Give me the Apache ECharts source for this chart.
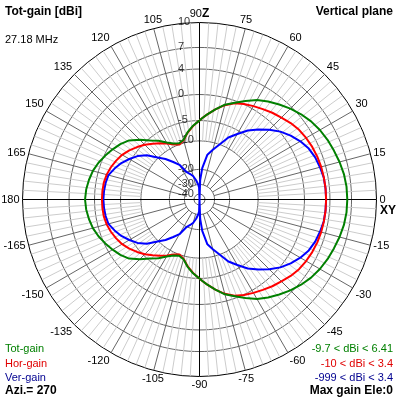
<!DOCTYPE html>
<html><head><meta charset="utf-8">
<script src="https://cdn.jsdelivr.net/npm/echarts@6/dist/echarts.min.js"></script>
<style>html,body{margin:0;padding:0;background:#fff}#c{width:398px;height:398px}</style>
</head><body><div id="c"></div>
<script>
// Elevation angles (deg), 0 = horizon toward XY, 90 = zenith (Z)
const ANGLES = [-180,-175,-170,-165,-160,-155,-150,-145,-140,-135,-130,-125,-120,-115,-110,-105,-100,-95,-92,-90,-88,-85,-80,-75,-70,-65,-60,-55,-50,-45,-40,-35,-30,-25,-20,-15,-10,-5,
  0,5,10,15,20,25,30,35,40,45,50,55,60,65,70,75,80,85,88,90,92,95,100,105,110,115,120,125,130,135,140,145,150,155,160,165,170,175,180];
// gains in dBi
const TOT_GAIN = [1.49,1.38,1.15,0.85,0.4,-0.2,-0.9,-1.6,-2.5,-3.9,-5.5,-6.8,-8.2,-9.2,-9.7,-9.2,-7.6,-6.2,-5.5,-5.0,-4.5,-3.8,-2.6,-1.3,-0.4,0.6,1.57,2.3,3.0,3.7,4.3,4.8,5.19,5.5,5.75,6.02,6.25,6.38,
  6.41,6.38,6.25,6.02,5.75,5.5,5.19,4.8,4.3,3.7,3.0,2.3,1.57,0.6,-0.4,-1.3,-2.6,-3.8,-4.5,-5.0,-5.5,-6.2,-7.6,-9.2,-9.7,-9.2,-8.2,-6.8,-5.5,-3.9,-2.5,-1.6,-0.9,-0.2,0.4,0.85,1.15,1.38,1.49];
const HOR_GAIN = [-1.42,-1.44,-1.5,-1.7,-2.05,-2.5,-3.0,-3.7,-4.5,-5.4,-6.5,-7.5,-8.5,-9.5,-10.0,-9.3,-7.7,-6.3,-5.5,-5.0,-4.5,-3.8,-2.6,-1.4,-0.5,0.05,0.45,0.85,1.3,1.7,2.2,2.6,2.85,3.05,3.2,3.3,3.35,3.39,
  3.4,3.39,3.35,3.3,3.2,3.05,2.85,2.6,2.2,1.7,1.3,0.85,0.45,0.05,-0.5,-1.4,-2.6,-3.8,-4.5,-5.0,-5.5,-6.3,-7.7,-9.3,-10.0,-9.5,-8.5,-7.5,-6.5,-5.4,-4.5,-3.7,-3.0,-2.5,-2.05,-1.7,-1.5,-1.44,-1.42];
const VER_GAIN = [-1.7,-1.75,-1.85,-2.05,-2.8,-3.6,-4.6,-5.8,-7.5,-9.8,-12,-14.5,-16.5,-20,-22,-24,-27,-30,-33,-999,-27,-19.5,-14.6,-12.5,-10.0,-7.6,-5.8,-4.0,-2.6,-1.2,0.1,1.0,1.8,2.45,2.85,3.1,3.33,3.38,
  3.4,3.38,3.33,3.1,2.85,2.45,1.8,1.0,0.1,-1.2,-2.6,-4.0,-5.8,-7.6,-10.0,-12.5,-14.6,-19.5,-27,-999,-33,-30,-27,-24,-22,-20,-16.5,-14.5,-12,-9.8,-7.5,-5.8,-4.6,-3.6,-2.8,-2.05,-1.85,-1.75,-1.7];

const RING_DB = [10,7,4,0,-5,-10,-20,-30,-40];
const RING_LABELS = ['10','7','4','0','-5','-10','-20','-30','-40'];
const SERIES_NAMES = ['Tot-gain','Hor-gain','Ver-gain'];
const RANGE_TEXTS = ['-9.7 < dBi < 6.41','-10 < dBi < 3.4','-999 < dBi < 3.4'];
const TITLE_LEFT = 'Tot-gain [dBi]';
const TITLE_RIGHT = 'Vertical plane';
const FREQ_TEXT = '27.18 MHz';
const AZI_TEXT = 'Azi.= 270';
const MAX_TEXT = 'Max gain Ele:0';

// log-type radial scale of the plot: fraction of outer radius at each ring
const SCALE_FRAC = [1,0.859,0.737,0.593,0.446,0.331,0.170,0.085,0.031];
function toRadius(db){
  if (db >= RING_DB[0]) return 1;
  for (let i=0;i<RING_DB.length-1;i++){
    const a=RING_DB[i], b=RING_DB[i+1];
    if (db<=a && db>=b){ const t=(a-db)/(a-b); return SCALE_FRAC[i]+t*(SCALE_FRAC[i+1]-SCALE_FRAC[i]); }
  }
  const last = SCALE_FRAC[SCALE_FRAC.length-1];
  return Math.max(0, last*(db+50)/10);
}
const norm = a => ((a%360)+360)%360;

const FONT = '"Liberation Sans", Arial, sans-serif';
const COLORS = ['#008000','#ff0000','#0000ff'];
const TEXT_COLORS = ['#008000','#e00000','#000090'];

const series = [];
function gridLine(data, color){
  series.push({type:'line', coordinateSystem:'polar', symbol:'none', silent:true, animation:false,
    data, lineStyle:{color, width:1}, z:1});
}
// rings
RING_DB.slice(1).forEach(db=>{
  const pts=[]; for(let a=0;a<=360;a+=2) pts.push([toRadius(db),a]);
  gridLine(pts,'#666666');
});
// spokes
for(let a=0;a<360;a+=3){
  if (a%15!==0) gridLine([[toRadius(-10),a],[1,a]],'#cccccc');
}
for(let a=15;a<360;a+=15){
  if (a%90!==0) gridLine([[toRadius(-30),a],[1,a]],'#666666');
}
gridLine([[1,0],[0,0],[1,180]],'#000000');
gridLine([[1,90],[0,90],[1,270]],'#000000');

// ring labels
series.push({type:'scatter', coordinateSystem:'polar', symbolSize:1, silent:true, animation:false,
  itemStyle:{color:'rgba(0,0,0,0)'}, z:2,
  data: RING_DB.map((db,i)=>({value:[toRadius(db),90], label:{formatter:RING_LABELS[i]}})),
  label:{show:true, position:[-21,0], align:'left', verticalAlign:'middle', fontSize:11, fontFamily:FONT, color:'#000'}
});

// traces
const GAINS = [TOT_GAIN, HOR_GAIN, VER_GAIN];
[2,1,0].forEach((k,j)=>{
  series.push({type:'line', name:SERIES_NAMES[k], coordinateSystem:'polar', symbol:'none', animation:false,
    smooth:false, z:5+j,
    data: ANGLES.map((a,i)=>[toRadius(GAINS[k][i]), norm(a)]),
    lineStyle:{color:COLORS[k], width:2, join:'round'}});
});

const txt = (text, x, y, color, bold, align, size) => ({type:'text', x, y, z:100, silent:true,
  style:{text, fill:color, font:(bold?'bold ':'')+(size||11)+'px '+FONT, textAlign:align||'left', textVerticalAlign:'middle'}});

const graphic = [
  txt(TITLE_LEFT,5,12,'#000',true,'left',12),
  txt(TITLE_RIGHT,393,12,'#000',true,'right',12),
  txt(FREQ_TEXT,5,40,'#000',false,'left',11),
  txt('XY',380,211,'#000',true,'left',12),
  txt(SERIES_NAMES[0],5,349,TEXT_COLORS[0],false,'left',11),
  txt(SERIES_NAMES[1],5,363.5,TEXT_COLORS[1],false,'left',11),
  txt(SERIES_NAMES[2],5,377.5,TEXT_COLORS[2],false,'left',11),
  txt(AZI_TEXT,5,390.5,'#000',true,'left',12),
  txt(RANGE_TEXTS[0],393,349,TEXT_COLORS[0],false,'right',11),
  txt(RANGE_TEXTS[1],393,363.5,TEXT_COLORS[1],false,'right',11),
  txt(RANGE_TEXTS[2],393,377.5,TEXT_COLORS[2],false,'right',11),
  txt(MAX_TEXT,393,390.5,'#000',true,'right',12)
];

const chart = echarts.init(document.getElementById('c'), null, {renderer:'canvas'});
chart.setOption({
  backgroundColor:'#ffffff',
  animation:false,
  polar:{center:[199.5,199.5], radius:177},
  angleAxis:{type:'value', min:0, max:360, interval:15, startAngle:0, clockwise:false,
    axisLine:{show:true, lineStyle:{color:'#000', width:1}},
    axisTick:{show:false}, splitLine:{show:false},
    axisLabel:{show:true, margin:3, fontSize:11, fontFamily:FONT, color:'#000',
      formatter: v => v===360 ? '' : (v===90 ? '{n|90}{z|Z}' : String(v>180 ? v-360 : v)),
      rich:{n:{fontSize:11, fontFamily:FONT, color:'#000'}, z:{fontSize:12, fontWeight:'bold', fontFamily:FONT, color:'#000'}}
    }},
  radiusAxis:{type:'value', min:0, max:1, axisLine:{show:false}, axisTick:{show:false}, axisLabel:{show:false}, splitLine:{show:false}},
  series,
  graphic
});
</script></body></html>
